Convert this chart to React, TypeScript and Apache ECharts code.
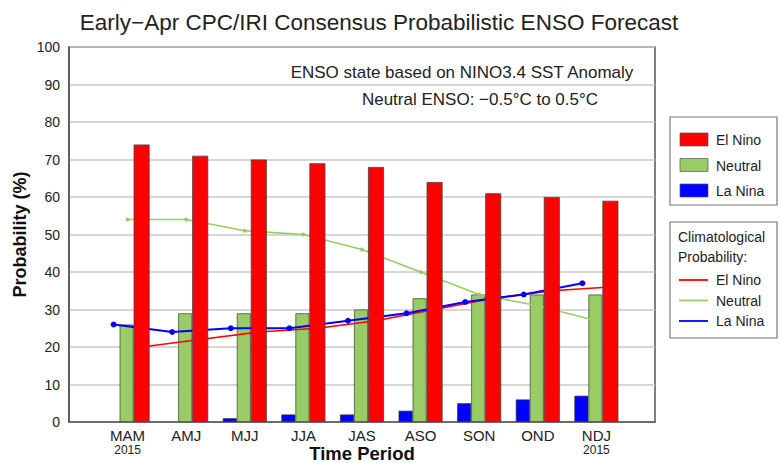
import React, { useEffect, useRef } from "react";
import * as echarts from "echarts";

const categories = ["MAM", "AMJ", "MJJ", "JJA", "JAS", "ASO", "SON", "OND", "NDJ"];
const yearLabels = ["2015", "", "", "", "", "", "", "", "2015"];
const elNino = [74, 71, 70, 69, 68, 64, 61, 60, 59];
const neutral = [26, 29, 29, 29, 30, 33, 34, 34, 34];
const laNina = [0, 0, 1, 2, 2, 3, 5, 6, 7];
const climElNino = [20, 22, 24, 25, 27, 30, 33, 35, 36];
const climNeutral = [54, 54, 51, 50, 46, 40, 34, 31, 27];
const climLaNina = [26, 24, 25, 25, 27, 29, 32, 34, 37];
const yTicks = [0, 100, 10];

const FONT = "Liberation Sans";
const RED = "#ff0000";
const GREEN = "#99cc66";
const BLUE = "#0000ff";

export default function App() {
  const ref = useRef<HTMLDivElement>(null);
  useEffect(() => {
    if (!ref.current) return;
    const chart = echarts.init(ref.current, null, { renderer: "svg" });
    const W = 781;
    const gridLeft = 69;
    const gridRight = 126;
    const gridTop = 47;
    const gridBottom = 41;
    const xMin = 0;
    const xMax = categories.length + 1;
    const barW = 14;
    const unitPx = (W - gridLeft - gridRight) / (xMax - xMin);
    const off = barW / unitPx;

    const xs = categories.map((_, i) => i + 1);
    const barData = (arr: number[]) =>
      arr.map((v, i) => ({
        value: [xs[i], v],
        itemStyle: v === 0 ? { borderWidth: 0 } : undefined,
      }));
    const lineData = (arr: number[], shift: number) => arr.map((v, i) => [xs[i] + shift, v]);

    const legendX = 670;
    const legendW = 107;
    const box1Top = 117;
    const box2Top = 222;

    const barLegend = [
      { name: "El Nino", color: RED },
      { name: "Neutral", color: GREEN },
      { name: "La Nina", color: BLUE },
    ];
    const lineLegend = [
      { name: "El Nino", color: RED },
      { name: "Neutral", color: GREEN },
      { name: "La Nina", color: BLUE },
    ];

    const txt = (text: string, x: number, y: number, size: number, align = "left") => ({
      type: "text",
      style: {
        text,
        x,
        y,
        textAlign: align,
        textVerticalAlign: "middle",
        fontSize: size,
        fontFamily: FONT,
        fill: "#222",
      },
    });

    const graphic: any[] = [
      txt("ENSO state based on NINO3.4 SST Anomaly", 462, 72, 17, "center"),
      txt("Neutral ENSO: \u22120.5\u00B0C to 0.5\u00B0C", 480, 99, 17, "center"),
      {
        type: "rect",
        shape: { x: legendX, y: box1Top, width: legendW, height: 88 },
        style: { fill: "#fff", stroke: "#777", lineWidth: 1.2 },
      },
      ...barLegend.flatMap((it, i) => [
        {
          type: "rect",
          shape: { x: legendX + 10, y: box1Top + 16 + i * 25.5, width: 28, height: 13 },
          style: { fill: it.color, stroke: "#555", lineWidth: 0.7 },
        },
        txt(it.name, legendX + 46, box1Top + 23 + i * 25.5, 14),
      ]),
      {
        type: "rect",
        shape: { x: legendX, y: box2Top, width: legendW, height: 116 },
        style: { fill: "#fff", stroke: "#777", lineWidth: 1.2 },
      },
      txt("Climatological", legendX + 8, box2Top + 15, 14),
      txt("Probability:", legendX + 8, box2Top + 35, 14),
      ...lineLegend.flatMap((it, i) => [
        {
          type: "line",
          shape: {
            x1: legendX + 9,
            y1: box2Top + 58 + i * 20.5,
            x2: legendX + 38,
            y2: box2Top + 58 + i * 20.5,
          },
          style: { stroke: it.color, lineWidth: 1.8 },
        },
        txt(it.name, legendX + 46, box2Top + 58 + i * 20.5, 14),
      ]),
    ];

    chart.setOption({
      animation: false,
      backgroundColor: "#fff",
      textStyle: { fontFamily: FONT },
      title: {
        text: "Early\u2212Apr CPC/IRI Consensus Probabilistic ENSO Forecast",
        left: 374,
        top: 6,
        textAlign: "center",
        textStyle: { fontSize: 22.5, fontWeight: "normal", color: "#222", fontFamily: FONT },
      },
      grid: {
        left: gridLeft,
        right: gridRight,
        top: gridTop,
        bottom: gridBottom,
        outerBoundsMode: "none",
        containLabel: false,
        show: true,
        borderColor: "#555",
        borderWidth: 1.5,
        backgroundColor: "transparent",
      },
      xAxis: {
        type: "value",
        min: xMin,
        max: xMax,
        interval: 1,
        name: "Time Period",
        nameLocation: "middle",
        nameGap: 22,
        nameMoveOverlap: false,
        nameTextStyle: { fontSize: 18.5, fontWeight: "bold", color: "#111", fontFamily: FONT, lineHeight: 18 },
        axisLine: { show: true, lineStyle: { color: "#555", width: 1.5 } },
        axisTick: { show: false },
        splitLine: { show: false },
        axisLabel: {
          margin: 6,
          showMinLabel: false,
          showMaxLabel: false,
          formatter: (v: number) => {
            const i = Math.round(v) - 1;
            if (i < 0 || i >= categories.length) return "";
            return yearLabels[i] ? `{c|${categories[i]}}\n{y|${yearLabels[i]}}` : `{c|${categories[i]}}`;
          },
          rich: {
            c: { fontSize: 15, color: "#222", fontFamily: FONT, lineHeight: 15 },
            y: { fontSize: 12, color: "#222", fontFamily: FONT, lineHeight: 14 },
          },
          verticalAlign: "top",
        },
      },
      yAxis: {
        type: "value",
        min: yTicks[0],
        max: yTicks[1],
        interval: yTicks[2],
        name: "Probability (%)",
        nameLocation: "middle",
        nameGap: 40,
        nameMoveOverlap: false,
        nameTextStyle: { fontSize: 18, fontWeight: "bold", color: "#111", fontFamily: FONT },
        axisLine: { show: true, lineStyle: { color: "#555", width: 1.5 } },
        axisTick: { show: false },
        axisLabel: { fontSize: 14, color: "#222", margin: 9, fontFamily: FONT },
        splitLine: { show: true, lineStyle: { color: "#c8c8c8", width: 1.5 } },
      },
      graphic,
      series: [
        {
          name: "La Nina",
          type: "bar",
          data: barData(laNina),
          barWidth: barW,
          barGap: "0%",
          z: 1,
          itemStyle: { color: BLUE, borderColor: "#333", borderWidth: 0.7 },
        },
        {
          name: "Neutral",
          type: "bar",
          data: barData(neutral),
          barWidth: barW,
          barGap: "0%",
          z: 1,
          itemStyle: { color: GREEN, borderColor: "#445533", borderWidth: 0.8 },
        },
        {
          name: "El Nino",
          type: "bar",
          data: barData(elNino),
          barWidth: barW + 2,
          barGap: "0%",
          z: 4,
          itemStyle: { color: RED, borderColor: "#444", borderWidth: 0.8 },
        },
        {
          name: "Clim. El Nino",
          type: "line",
          data: lineData(climElNino, off),
          z: 2,
          symbol: "none",
          lineStyle: { color: RED, width: 1.6 },
        },
        {
          name: "Clim. Neutral",
          type: "line",
          data: lineData(climNeutral, 0),
          z: 2,
          symbol: "circle",
          symbolSize: 4,
          itemStyle: { color: GREEN },
          lineStyle: { color: GREEN, width: 1.6 },
        },
        {
          name: "Clim. La Nina",
          type: "line",
          data: lineData(climLaNina, -off),
          z: 3,
          symbol: "circle",
          symbolSize: 6,
          itemStyle: { color: BLUE },
          lineStyle: { color: BLUE, width: 2 },
        },
      ],
    });
    return () => chart.dispose();
  }, []);
  return (
    <div
      ref={ref}
      style={{ position: "absolute", left: 0, top: 0, width: 781, height: 463 }}
    />
  );
}
